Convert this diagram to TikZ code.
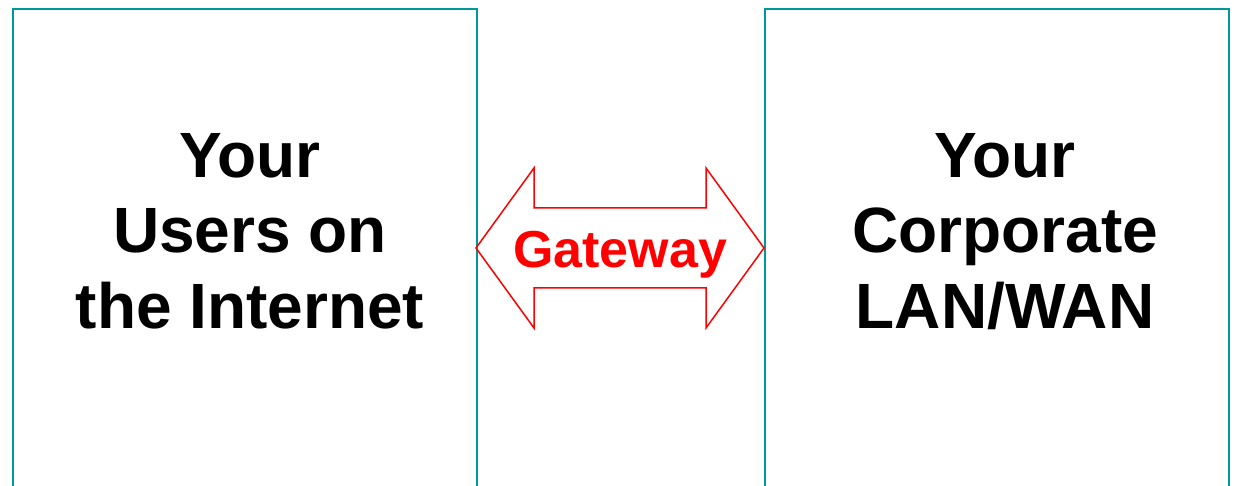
\documentclass[tikz,border=0pt]{standalone}
\usepackage{fontspec}
\setmainfont{Liberation Sans}
\definecolor{boxteal}{RGB}{0,153,153}
\definecolor{gwred}{RGB}{255,0,0}
\tikzset{
  panel/.style={draw=boxteal, line width=2pt, fill=none, inner sep=0pt, anchor=north west},
  paneltext/.style={font=\bfseries\fontsize{64}{75.5}\selectfont, align=center, inner sep=0pt, anchor=base},
  gwarrow/.style={draw=gwred, line width=1.5pt, line join=miter},
  gwtext/.style={font=\bfseries\fontsize{52}{60}\selectfont, text=gwred, inner sep=0pt, anchor=base}
}
\begin{document}
\begin{tikzpicture}[x=1pt,y=-1pt]
\useasboundingbox (0,0) rectangle (1234,486);
\clip (0,0) rectangle (1234,486);
\node[panel, minimum width=464pt, minimum height=520pt] (leftbox) at (12,8) {};
\node[panel, minimum width=464pt, minimum height=520pt] (rightbox) at (764,8) {};
\node[paneltext] (lefttext) at (250,328) {Your\\Users on\\the Internet};
\node[paneltext] (righttext) at (1005,328) {Your\\Corporate\\LAN/WAN};
\coordinate (ltip) at (476,248);
\coordinate (rtip) at (764,248);
\draw[gwarrow] (ltip) -- (534,168) -- (534,208) -- (706,208) -- (706,168) -- (rtip)
  -- (706,328) -- (706,288) -- (534,288) -- (534,328) -- cycle;
\node[gwtext] (gateway) at (620,268) {Gateway};
\end{tikzpicture}
\end{document}
